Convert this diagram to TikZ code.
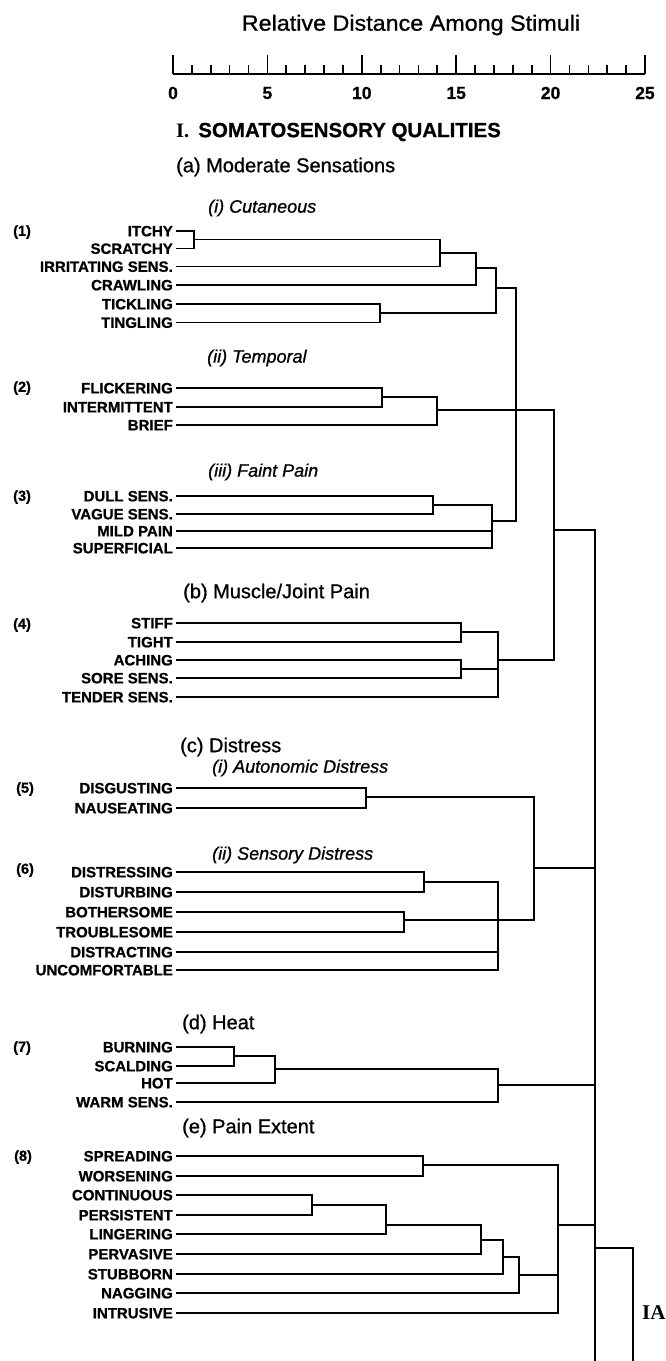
\documentclass[tikz,border=0pt]{standalone}
\usepackage{fontspec}
\setmainfont{Liberation Sans}
\newfontfamily\med{Liberation Sans}[FakeBold=0.9]
\newfontfamily\heavy{Liberation Sans}[FakeBold=0.7]
\newfontfamily\tnr{Liberation Serif}
\usepackage{graphicx}
\begin{document}
\begin{tikzpicture}[x=1pt,y=-1pt,
  leaf/.style={anchor=east, inner sep=0pt, font=\fontsize{15}{15}\heavy\bfseries, text height=10.7pt, text depth=0pt},
  grp/.style={anchor=west, inner sep=0pt, font=\fontsize{14.5}{14.5}\heavy\bfseries},
  head/.style={anchor=west, inner sep=0pt, font=\fontsize{20}{20}\med},
  sub/.style={anchor=west, inner sep=0pt, font=\fontsize{18}{18}\med\itshape},
  num/.style={inner sep=0pt, font=\fontsize{17.5}{17.5}\heavy\bfseries},
  link/.style={line width=1.6pt, line cap=rect},
  lf/.style={link, shorten <=4pt},
  tick/.style={line width=1.7pt}]
\useasboundingbox[fill=white] (0,0) rectangle (666,1361);

% title and scale
\node[inner sep=0pt, font=\fontsize{22}{22}\med] (title) at (411,25) {\scalebox{1.06}[1]{Relative Distance Among Stimuli}};
\coordinate (s0) at (173,74);
\coordinate (s25) at (645,74);
\draw[line width=2.2pt] (s0) -- (s25);
\foreach \i in {0,...,25} \draw[tick] ({173+18.88*\i},74) -- ({173+18.88*\i},65);
\foreach \i in {0,5,...,25} \draw[tick] ({173+18.88*\i},74) -- ({173+18.88*\i},55);
\foreach \i in {0,5,...,25} \node[num] (num\i) at ({173+18.88*\i},93) {\i};

\node[anchor=west, inner sep=0pt, font=\fontsize{20.5}{20.5}\heavy\bfseries] (secI) at (176,132) {{\tnr\bfseries I.}\hspace{9pt}SOMATOSENSORY QUALITIES};
\node[head] (ha) at (176,167) {(a) Moderate Sensations};
\node[sub] (hai) at (208,208) {(i) Cutaneous};
\node[sub] (haii) at (207,358) {(ii) Temporal};
\node[sub] (haiii) at (208,472) {(iii) Faint Pain};
\node[head] (hb) at (183,593) {(b) Muscle/Joint Pain};
\node[head] (hc) at (180,747) {(c) Distress};
\node[sub] (hci) at (212,768) {(i) Autonomic Distress};
\node[sub] (hcii) at (212,855) {(ii) Sensory Distress};
\node[head] (hd) at (182,1024) {(d) Heat};
\node[head] (he) at (182,1128) {(e) Pain Extent};

\node[grp] (g1) at (13,232) {(1)};
\node[grp] (g2) at (13,388) {(2)};
\node[grp] (g3) at (13,497) {(3)};
\node[grp] (g4) at (13,625) {(4)};
\node[grp] (g5) at (16,789) {(5)};
\node[grp] (g6) at (16,870) {(6)};
\node[grp] (g7) at (13,1048) {(7)};
\node[grp] (g8) at (14,1157) {(8)};

% leaves
\node[leaf] (itchy) at (173,231) {ITCHY};
\node[leaf] (scratchy) at (173,248.5) {SCRATCHY};
\node[leaf] (irritating) at (173,266.5) {IRRITATING SENS.};
\node[leaf] (crawling) at (173,285) {CRAWLING};
\node[leaf] (tickling) at (173,304) {TICKLING};
\node[leaf] (tingling) at (173,322.5) {TINGLING};
\node[leaf] (flickering) at (173,388) {FLICKERING};
\node[leaf] (intermittent) at (173,407) {INTERMITTENT};
\node[leaf] (brief) at (173,425) {BRIEF};
\node[leaf] (dull) at (173,496) {DULL SENS.};
\node[leaf] (vague) at (173,514) {VAGUE SENS.};
\node[leaf] (mild) at (173,531) {MILD PAIN};
\node[leaf] (superficial) at (173,548) {SUPERFICIAL};
\node[leaf] (stiff) at (173,623) {STIFF};
\node[leaf] (tight) at (173,642) {TIGHT};
\node[leaf] (aching) at (173,660) {ACHING};
\node[leaf] (sore) at (173,678) {SORE SENS.};
\node[leaf] (tender) at (173,697) {TENDER SENS.};
\node[leaf] (disgusting) at (173,788) {DISGUSTING};
\node[leaf] (nauseating) at (173,808) {NAUSEATING};
\node[leaf] (distressing) at (173,872) {DISTRESSING};
\node[leaf] (disturbing) at (173,892) {DISTURBING};
\node[leaf] (bothersome) at (173,912) {BOTHERSOME};
\node[leaf] (troublesome) at (173,932) {TROUBLESOME};
\node[leaf] (distracting) at (173,952) {DISTRACTING};
\node[leaf] (uncomfortable) at (173,970) {UNCOMFORTABLE};
\node[leaf] (burning) at (173,1047) {BURNING};
\node[leaf] (scalding) at (173,1066) {SCALDING};
\node[leaf] (hot) at (173,1083) {HOT};
\node[leaf] (warm) at (173,1102) {WARM SENS.};
\node[leaf] (spreading) at (173,1156) {SPREADING};
\node[leaf] (worsening) at (173,1176) {WORSENING};
\node[leaf] (continuous) at (173,1195) {CONTINUOUS};
\node[leaf] (persistent) at (173,1215) {PERSISTENT};
\node[leaf] (lingering) at (173,1234) {LINGERING};
\node[leaf] (pervasive) at (173,1254) {PERVASIVE};
\node[leaf] (stubborn) at (173,1274) {STUBBORN};
\node[leaf] (nagging) at (173,1293) {NAGGING};
\node[leaf] (intrusive) at (173,1313) {INTRUSIVE};

% join points
\coordinate (c1) at (194,239.5);
\coordinate (c2) at (440,253);
\coordinate (c3) at (476,268);
\coordinate (c4) at (380,313);
\coordinate (c5) at (496,288);
\coordinate (cf) at (516,410);
\coordinate (t1) at (382,397);
\coordinate (t2) at (437,410);
\coordinate (f1) at (433,505);
\coordinate (f2) at (492,521);
\coordinate (m1) at (461,632);
\coordinate (m2) at (461,669);
\coordinate (m3) at (498,660);
\coordinate (A) at (554,530);
\coordinate (d1) at (366,797);
\coordinate (d2) at (424,882);
\coordinate (d3) at (404,920);
\coordinate (d4) at (498,920);
\coordinate (d5) at (534,868);
\coordinate (h1) at (234,1056);
\coordinate (h2) at (275,1069);
\coordinate (h3) at (498,1085);
\coordinate (p1) at (423,1165);
\coordinate (p2) at (312,1205);
\coordinate (p3) at (386,1225);
\coordinate (p4) at (481,1240);
\coordinate (p5) at (503,1257);
\coordinate (p6) at (519,1275);
\coordinate (p7) at (558,1225);
\coordinate (B) at (595,1248);
\coordinate (Bend) at (595,1361);
\coordinate (C) at (633,1248);
\coordinate (Cend) at (633,1361);

% leaf links
\foreach \a/\b in {itchy/c1,scratchy/c1,irritating/c2,crawling/c3,tickling/c4,tingling/c4,
  flickering/t1,intermittent/t1,brief/t2,dull/f1,vague/f1,mild/f2,superficial/f2,
  stiff/m1,tight/m1,aching/m2,sore/m2,tender/m3,
  disgusting/d1,nauseating/d1,distressing/d2,disturbing/d2,bothersome/d3,troublesome/d3,distracting/d4,uncomfortable/d4,
  burning/h1,scalding/h1,hot/h2,warm/h3,
  spreading/p1,worsening/p1,continuous/p2,persistent/p2,lingering/p3,pervasive/p4,stubborn/p5,nagging/p6,intrusive/p7}
  \draw[lf] (\a.east) -| (\b);
% internal links
\foreach \a/\b in {c1/c2,c2/c3,c3/c5,c4/c5,c5/cf,f2/cf,t1/t2,f1/f2,m1/m3,m2/m3,
  t2/A,cf/A,m3/A,A/B,d1/d5,d3/d5,d2/d4,d4/d5,d5/B,h1/h2,h2/h3,h3/B,
  p2/p3,p3/p4,p4/p5,p5/p6,p1/p7,p6/p7,p7/B}
  \draw[link] (\a) -| (\b);
\draw[link] (B) -- (Bend);
\draw[link] (B) -- (C);
\draw[link] (C) -- (Cend);
\node[anchor=west, inner sep=0pt, font=\fontsize{21}{21}\tnr\bfseries] (IA) at (642,1313) {IA};
\end{tikzpicture}
\end{document}
